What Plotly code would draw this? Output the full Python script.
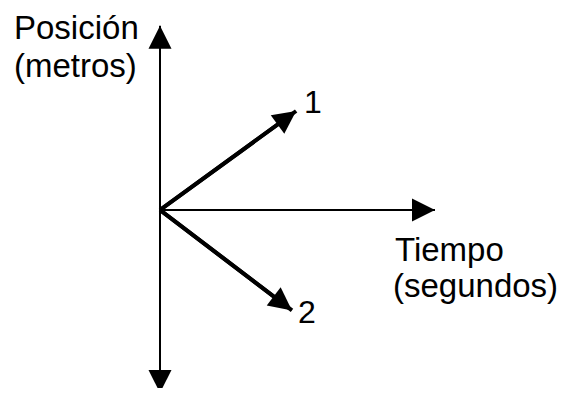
import plotly.graph_objects as go

# ---- schematic data (time in s, position in m; arbitrary schematic units) ----
time_axis = [0, 10]                 # horizontal axis: origin -> arrow tip
position_axis = [-6.65, 6.7]        # vertical axis: bottom tip, top tip
series_names = ["1", "2"]
series_time = [[0, 4.95], [0, 4.8]]
series_position = [[0, 3.6], [0, -3.65]]

axis_title_y = ["Posición", "(metros)"]
axis_title_x = ["Tiempo", "(segundos)"]

# the page body adds an 8px margin; the figure is sized/placed to compensate
PAGE_MARGIN = 8
W, H = 572 - 2 * PAGE_MARGIN, 396 - 2 * PAGE_MARGIN
PX = 27.5                                      # pixels per unit
OX, OY = 160 - PAGE_MARGIN, 210 - PAGE_MARGIN  # origin in figure pixels
x_range = [-OX / PX, (W - OX) / PX]
y_range = [-(H - OY) / PX, OY / PX]

FONT = "Liberation Sans, Arial, sans-serif"
BLACK = "#000000"
TITLE_SIZE = 33

fig = go.Figure()

# axes lines
fig.add_trace(go.Scatter(x=[0, 0], y=position_axis, mode="lines",
                         line=dict(color=BLACK, width=2), hoverinfo="skip", showlegend=False))
fig.add_trace(go.Scatter(x=time_axis, y=[0, 0], mode="lines",
                         line=dict(color=BLACK, width=2), hoverinfo="skip", showlegend=False))

# series lines
for name, t, p in zip(series_names, series_time, series_position):
    fig.add_trace(go.Scatter(x=t, y=p, mode="lines", name=name,
                             line=dict(color=BLACK, width=4, backoff=10),
                             showlegend=False))

ann = []
# axis arrowheads
for tip in [(0, position_axis[1]), (0, position_axis[0]), (time_axis[1], 0)]:
    ann.append(dict(x=tip[0], y=tip[1], ax=0, ay=0, xref="x", yref="y",
                    axref="x", ayref="y", text="", showarrow=True,
                    arrowhead=2, arrowsize=2.3, arrowwidth=2, arrowcolor=BLACK))
# series arrowheads + labels
label_offsets = [(0.62, 0.33), (0.55, -0.05)]
for name, t, p, off in zip(series_names, series_time, series_position, label_offsets):
    ann.append(dict(x=t[1], y=p[1], ax=t[0], ay=p[0], xref="x", yref="y",
                    axref="x", ayref="y", text="", showarrow=True,
                    arrowhead=2, arrowsize=1.15, arrowwidth=4, arrowcolor=BLACK))
    ann.append(dict(x=t[1] + off[0], y=p[1] + off[1], xref="x", yref="y",
                    text=name, showarrow=False, xanchor="center", yanchor="middle",
                    font=dict(family=FONT, size=32, color=BLACK)))

# axis titles (page pixel positions converted to paper coordinates)
def paper(px, py):
    return (px - PAGE_MARGIN) / W, 1 - (py - PAGE_MARGIN) / H

# top title line sits flush with the top edge so its text box is not clipped
xx, _ = paper(13, 0)
ann.append(dict(x=xx, y=1, xref="paper", yref="paper", text=axis_title_y[0],
                showarrow=False, xanchor="left", yanchor="top", borderpad=0,
                font=dict(family=FONT, size=TITLE_SIZE, color=BLACK)))
xx, yy = paper(13, 46)
ann.append(dict(x=xx, y=yy, xref="paper", yref="paper", text=axis_title_y[1],
                showarrow=False, xanchor="left", yanchor="top", borderpad=0,
                font=dict(family=FONT, size=TITLE_SIZE, color=BLACK)))
for txt, (px, py) in zip(axis_title_x, [(393, 249), (391, 285)]):
    xx, yy = paper(px, py)
    ann.append(dict(x=xx, y=yy, xref="paper", yref="paper", text=txt, showarrow=False,
                    xanchor="left", yanchor="middle",
                    font=dict(family=FONT, size=TITLE_SIZE, color=BLACK)))

fig.update_layout(
    width=W, height=H,
    margin=dict(l=0, r=0, t=0, b=0),
    paper_bgcolor="white", plot_bgcolor="white",
    xaxis=dict(range=x_range, visible=False, fixedrange=True),
    yaxis=dict(range=y_range, visible=False, fixedrange=True),
    annotations=ann,
    showlegend=False,
)

fig.write_html("out.html")
